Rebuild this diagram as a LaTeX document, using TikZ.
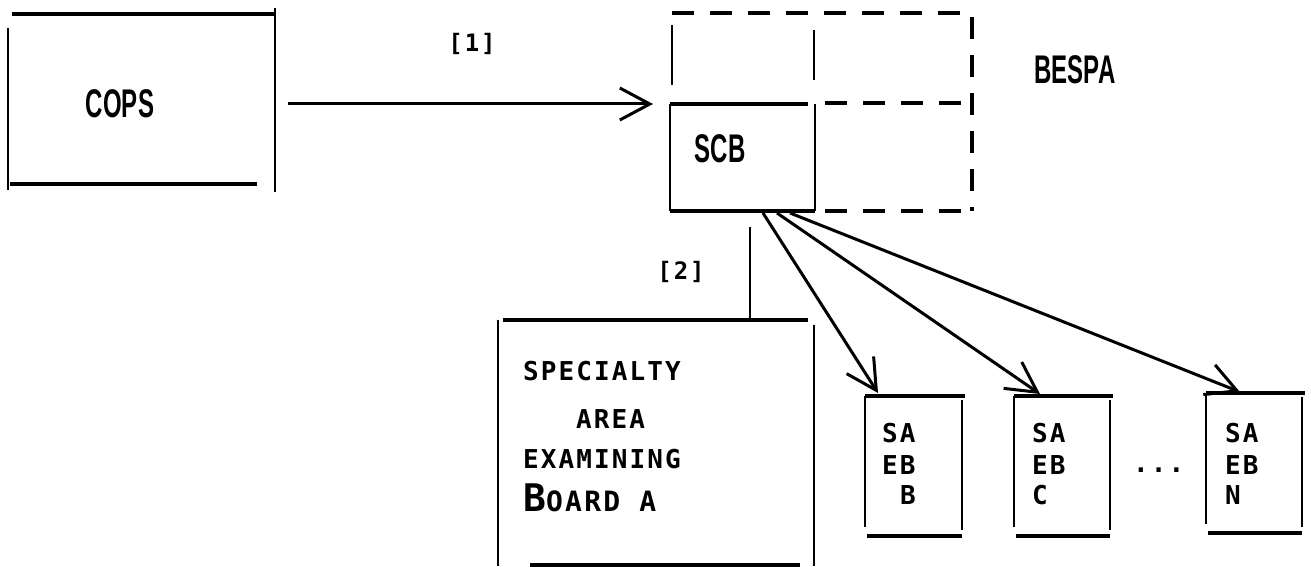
\documentclass[tikz,border=0pt]{standalone}
\usepackage{fontspec}
\usepackage{graphicx}
\usetikzlibrary{arrows.meta,calc}
\newfontfamily\tw[LetterSpace=8]{DejaVu Sans Mono Bold}
\newfontfamily\cond{Liberation Sans}
\tikzset{
  hline/.style={line width=3.5pt},
  vline/.style={line width=2pt},
  dline/.style={line width=3.5pt, dash pattern=on 22pt off 16pt},
  arr/.style={line width=3pt, -{Straight Barb[length=30pt,width=32pt,line width=3pt]}},
  box/.style={rectangle, inner sep=0pt, outer sep=0pt, draw=none},
  lbl/.style={font=\cond\bfseries\fontsize{40}{40}\selectfont, inner sep=0pt},
  tt/.style={font=\tw\fontsize{26}{26}\selectfont, inner sep=0pt, anchor=base west},
  br/.style={font=\tw\fontsize{24}{24}\selectfont, inner sep=0pt}
}
\begin{document}
\begin{tikzpicture}[x=1pt,y=-1pt]
\useasboundingbox (0,0) rectangle (1311,567);

% ---------- COPS ----------
\node[box, minimum width=267pt, minimum height=170pt] (cops) at (141.5,99) {};
\draw[hline] ($(cops.north west)+(4,0)$) -- (cops.north east);
\draw[hline] ($(cops.south west)+(2,0)$) -- ($(cops.south east)+(-18,0)$);
\draw[vline] ($(cops.north west)+(0,14)$) -- ($(cops.south west)+(0,6)$);
\draw[vline] ($(cops.north east)+(0,-6)$) -- ($(cops.south east)+(0,8)$);
\node[lbl] (copst) at (120,104) {\scalebox{0.6}[1]{COPS}};

% ---------- SCB / BESPA ----------
\node[box, minimum width=145pt, minimum height=107pt] (scb) at (742.5,157.5) {};
\node[box, minimum width=300pt, minimum height=198pt] (bespa) at (822,112) {};
\draw[hline] (scb.north west) -- ($(scb.north east)+(-7,0)$);
\draw[hline] (scb.south west) -- (scb.south east);
\draw[vline] (scb.north west) -- (scb.south west);
\draw[vline] (scb.north east) -- (scb.south east);
\draw[dline] (bespa.north west) -- (bespa.north east) -- (bespa.south east);
\draw[dline] ($(scb.north east)+(10,-1)$) -- ($(bespa.east |- scb.north)+(-7,-1)$);
\draw[dline] ($(scb.south east)+(10,0)$) -- ($(bespa.south east)+(-7,0)$);
\draw[vline] ($(bespa.north west)+(0,12)$) -- ($(bespa.north west)+(0,72)$);
\draw[vline] ($(scb.north east)+(-1,-74)$) -- ($(scb.north east)+(-1,-24)$);
\node[lbl] (scbt) at (720,149) {\scalebox{0.6}[1]{SCB}};
\node[lbl] (bespat) at (1075,70) {\scalebox{0.6}[1]{BESPA}};

% ---------- arrow [1] ----------
\draw[arr] ($(cops.east)+(13,5)$) -- ($(scb.north west)+(-17,0)$);
\node[br] (l1) at (472,44) {[1]};

% ---------- Specialty Area Examining Board A ----------
\node[box, minimum width=316pt, minimum height=246pt] (spec) at (656,443) {};
\draw[hline] ($(spec.north west)+(5,0)$) -- ($(spec.north east)+(-6,0)$);
\draw[hline] ($(spec.south west)+(32,-1)$) -- ($(spec.south east)+(-14,-1)$);
\draw[vline] (spec.north west) -- (spec.south west);
\draw[vline] ($(spec.north east)+(0,5)$) -- (spec.south east);
\node[tt] (s1) at (523,380) {SPECIALTY};
\node[tt] (s2) at (576,428) {AREA};
\node[tt] (s3) at (523,468) {EXAMINING};
\node[tt] (s4) at (523,511) {{\fontsize{38}{38}\selectfont B}{\fontsize{28}{28}\selectfont OARD A}};

% ---------- connector [2] ----------
\coordinate (c2) at ($(scb.south west)+(80,0)$);
\draw[line width=2.5pt] (c2 |- spec.north) -- ($(c2)+(0,16)$);
\node[br] (l2) at (681,272) {[2]};

% ---------- SA EB boxes ----------
\node[box, minimum width=97pt, minimum height=140pt] (sab) at (913.5,466) {};
\node[box, minimum width=96pt, minimum height=140pt] (sac) at (1062,466) {};
\node[box, minimum width=96pt, minimum height=140pt] (san) at (1254,463) {};
\foreach \b in {sab,sac,san}{
  \draw[hline] (\b.north west) -- ($(\b.north east)+(3,0)$);
  \draw[vline] (\b.north west) -- ($(\b.south west)+(0,-9)$);
  \draw[vline] ($(\b.north east)+(0,4)$) -- ($(\b.south east)+(0,-6)$);
  \draw[hline] ($(\b.south west)+(2,0)$) -- ($(\b.south east)+(0,0)$);
}
\node[tt] (b1) at (882,442) {SA};
\node[tt] (b2) at (882,474) {EB};
\node[tt] (b3) at (900,504) {B};
\node[tt] (c1) at (1032,442) {SA};
\node[tt] (c2t) at (1032,474) {EB};
\node[tt] (c3) at (1032,504) {C};
\node[tt] (n1) at (1225,442) {SA};
\node[tt] (n2) at (1225,474) {EB};
\node[tt] (n3) at (1225,504) {N};
\node[tt] (dots) at (1133,472) {...};

% ---------- arrows from SCB ----------
\draw[arr] ($(scb.south west)+(93,2)$) -- ($(sab.north west)+(13,-3)$);
\draw[arr] ($(scb.south west)+(107,2)$) -- ($(sac.north west)+(26,-2)$);
\draw[arr] ($(scb.south west)+(120,2)$) -- ($(san.north west)+(34,-1)$);
\end{tikzpicture}
\end{document}
